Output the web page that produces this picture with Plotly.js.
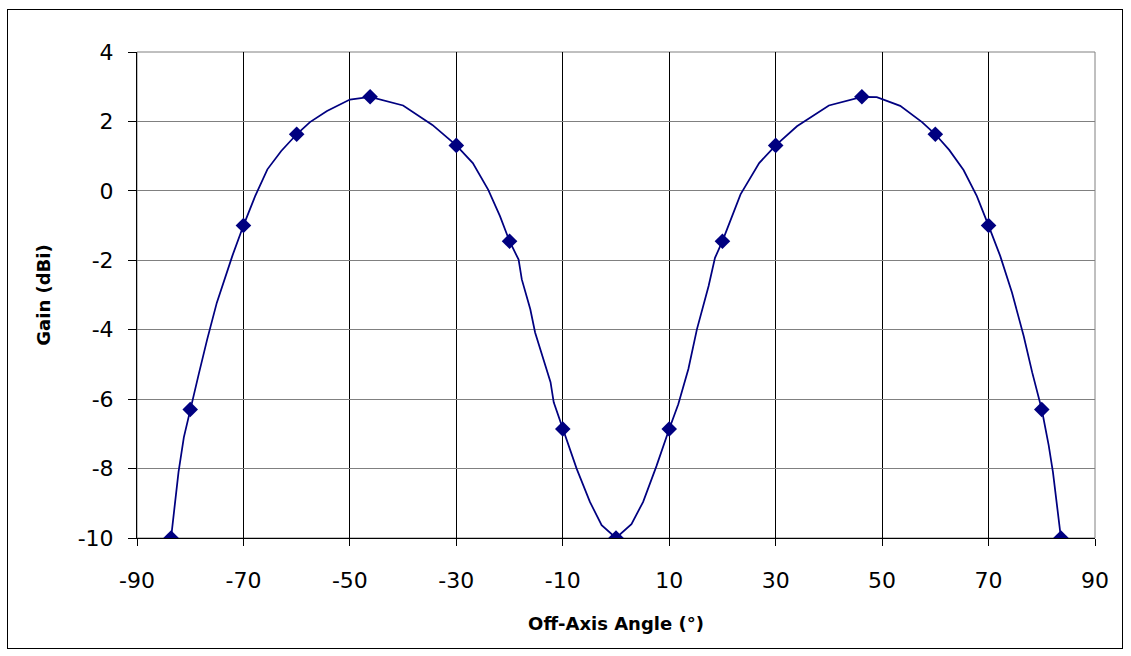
<!DOCTYPE html>
<html>
<head>
<meta charset="utf-8">
<script src="https://cdn.plot.ly/plotly-3.0.1.min.js"></script>
<style>
  html, body { margin: 0; padding: 0; background: #fff; }
  #chart { width: 1131px; height: 656px; }
  #frame { position: absolute; left: 7px; top: 9px; width: 1116px; height: 640px; border: 1px solid #000; pointer-events: none; box-sizing: border-box; }
</style>
</head>
<body>
<div id="chart"></div>
<div id="frame"></div>
<script>
// Measured gain pattern (markers)
const markerAngle = [-83.6, -80, -70, -60, -46.2, -30, -20, -10, 0, 10, 20, 30, 46.2, 60, 70, 80, 83.6];
const markerGain  = [-10, -6.3, -1.0, 1.63, 2.71, 1.31, -1.45, -6.86, -10, -6.86, -1.45, 1.31, 2.71, 1.63, -1.0, -6.3, -10];

// Fitted curve (line)
const curveAngle = [-83.6, -82.2, -81.2, -80, -78.4, -76.8, -75.0, -72.1, -70, -67.8, -65.5, -62.9, -60, -57.5, -54.3, -50, -46.2, -40, -34.5, -30, -26.9, -24, -21.8, -20, -18.3, -17.7, -16.1, -15.2, -12.3, -11.7, -10, -7.4, -4.9, -2.7, 0,
                    2.9, 5.1, 7.6, 10, 11.7, 13.6, 15.2, 17.4, 18.6, 20, 21.8, 23.4, 26.9, 30, 34, 40, 46.2, 49, 53.4, 57.5, 60, 62.6, 65.3, 67.8, 70, 72.2, 74.4, 76.6, 78.2, 80, 81.3, 82.1, 83.6];
const curveGain  = [-10, -8.1, -7.1, -6.3, -5.28, -4.27, -3.22, -1.88, -1.0, -0.15, 0.62, 1.15, 1.63, 1.98, 2.3, 2.63, 2.71, 2.46, 1.9, 1.31, 0.8, 0.03, -0.73, -1.45, -1.98, -2.55, -3.41, -4.08, -5.51, -6.09, -6.86, -8.0, -8.96, -9.63, -10,
                    -9.6, -8.96, -7.93, -6.86, -6.15, -5.13, -3.99, -2.74, -1.93, -1.45, -0.73, -0.1, 0.8, 1.31, 1.86, 2.46, 2.71, 2.7, 2.45, 1.98, 1.63, 1.18, 0.6, -0.15, -1.0, -1.88, -2.93, -4.18, -5.23, -6.3, -7.33, -8.1, -10];

const xTicks = [-90, -70, -50, -30, -10, 10, 30, 50, 70, 90];
const yTicks = [-10, -8, -6, -4, -2, 0, 2, 4];

const navy = '#000080';
const fontFamily = 'DejaVu Sans, Arial, sans-serif';

const traces = [
  { x: curveAngle, y: curveGain, type: 'scatter', mode: 'lines',
    line: { color: navy, width: 1.75 }, hoverinfo: 'skip', showlegend: false },
  { x: markerAngle, y: markerGain, type: 'scatter', mode: 'markers',
    marker: { symbol: 'diamond', size: 12, color: navy, line: { width: 0 } }, showlegend: false }
];

const layout = {
  width: 1131, height: 656,
  margin: { l: 137, r: 36, t: 52, b: 118, pad: 0 },
  paper_bgcolor: '#ffffff', plot_bgcolor: '#ffffff',
  font: { family: fontFamily, color: '#000' },
  showlegend: false,
  xaxis: {
    range: [-90, 90], tickmode: 'array', tickvals: xTicks, ticktext: xTicks.map(String),
    showgrid: true, gridcolor: '#000000', gridwidth: 1,
    zeroline: false, showline: true, linecolor: '#000', linewidth: 1,
    ticks: 'outside', ticklen: 7, tickcolor: '#000', tickwidth: 1,
    tickfont: { size: 22, family: fontFamily, color: '#000' },
    ticklabelstandoff: 16,
    title: { text: 'Off-Axis Angle (°)', font: { size: 18, family: fontFamily, weight: 'bold', color: '#000' }, standoff: 24 },
    automargin: false
  },
  yaxis: {
    range: [-10, 4], tickmode: 'array', tickvals: yTicks, ticktext: yTicks.map(String),
    showgrid: true, gridcolor: '#808080', gridwidth: 1,
    zeroline: false, showline: true, linecolor: '#000', linewidth: 1,
    ticks: 'outside', ticklen: 8, tickcolor: '#000', tickwidth: 1,
    tickfont: { size: 22, family: fontFamily, color: '#000' },
    ticklabelstandoff: 10,
    title: { text: 'Gain (dBi)', font: { size: 18, family: fontFamily, weight: 'bold', color: '#000' }, standoff: 22 },
    automargin: false
  },
  shapes: [
    { type: 'rect', xref: 'paper', yref: 'paper', x0: 0, x1: 1, y0: 0, y1: 1,
      line: { color: '#808080', width: 1 }, layer: 'below' }
  ]
};

Plotly.newPlot('chart', traces, layout, { staticPlot: true, displayModeBar: false });
</script>
</body>
</html>
